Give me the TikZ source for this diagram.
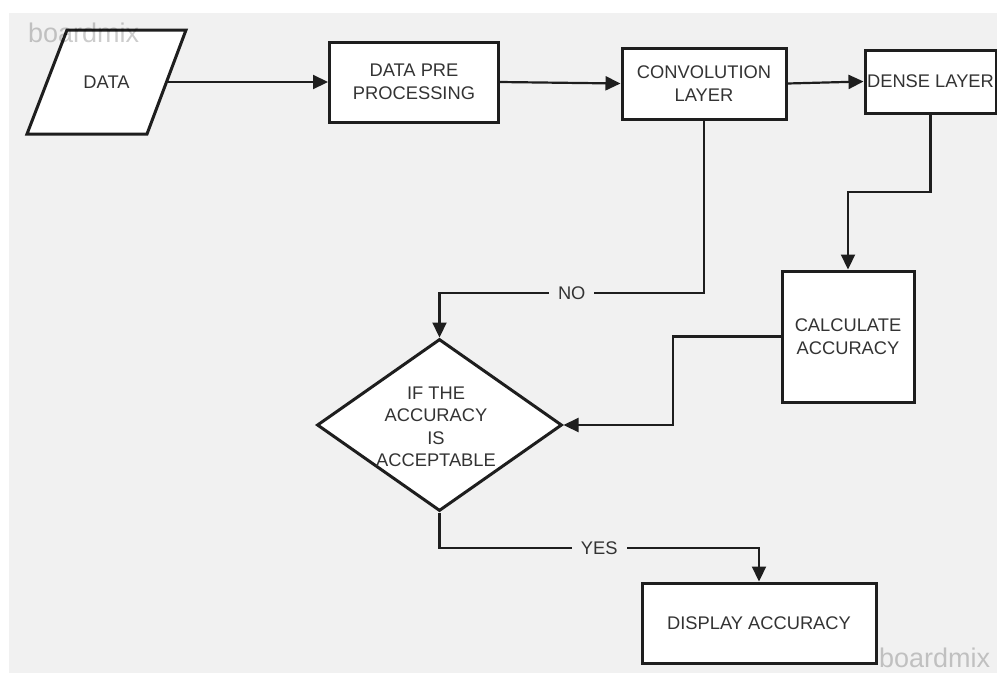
\documentclass[tikz,border=0pt]{standalone}
\usepackage{fontspec}
\setmainfont{Liberation Sans}
\usetikzlibrary{arrows.meta,shapes.geometric,calc}
\definecolor{bg}{HTML}{F1F1F1}
\definecolor{txt}{HTML}{333333}
\definecolor{edge}{HTML}{1E1E1E}
\begin{document}
\begin{tikzpicture}[x=1pt,y=-1pt,
  font=\fontsize{18.3}{23}\selectfont,
  box/.style={draw=edge, line width=3pt, fill=white, text=txt, align=center, inner sep=0pt},
  conn/.style={draw=edge, line width=2.2pt, -{Triangle[length=15pt,width=14pt]}},
  lbl/.style={fill=bg, text=txt, inner sep=9pt},
  wmark/.style={text=black, text opacity=0.2, font=\fontsize{27}{27}\selectfont, anchor=base west, inner sep=0pt}
]
\useasboundingbox (0,0) rectangle (997,673);
\fill[bg] (9,13) rectangle (997,673);

% DATA parallelogram
\draw[line width=3pt, draw=edge, fill=white] (67,30) -- (186,30) -- (147,134) -- (27,134) -- cycle;
\node[text=txt, minimum width=120, minimum height=104, inner sep=0pt] (data) at (106.5,82) {DATA};

\node[box, minimum width=169, minimum height=80] (pre) at (414,82) {DATA PRE\\PROCESSING};
\node[box, minimum width=164, minimum height=71] (conv) at (704,83.5) {CONVOLUTION\\LAYER};
\node[box, minimum width=131, minimum height=63] (dense) at (930.5,81.5) {DENSE LAYER};
\node[box, minimum width=132, minimum height=131] (calc) at (848,336.5) {CALCULATE\\ACCURACY};
\node[box, shape=diamond, minimum width=245, minimum height=172] (dec) at (439.5,425) {};
\node[text=txt, align=center, inner sep=0pt, font=\fontsize{18.3}{22.5}\selectfont] (dect) at (436,427) {IF THE\\ACCURACY\\IS\\ACCEPTABLE};
\node[box, minimum width=234, minimum height=80] (disp) at (759,623) {DISPLAY ACCURACY};

\coordinate (noy) at (0,293);
\coordinate (dy) at (0,192);
\coordinate (cx) at (673,0);
\coordinate (yy) at (0,548);

\draw[conn] (data.east) -- (pre.west);
\draw[conn] (pre.east) -- (conv.west);
\draw[conn] (conv.east) -- (dense.west);
\draw[conn] (conv.south) -- (conv.south |- noy) -- node[lbl] {NO} (dec.north |- noy) -- (dec.north);
\draw[conn] (dense.south) -- (dense.south |- dy) -- (calc.north |- dy) -- (calc.north);
\draw[conn] (calc.west) -- (cx |- calc.west) -- (cx |- dec.east) -- (dec.east);
\draw[conn] (dec.south) -- (dec.south |- yy) -- node[lbl] {YES} (disp.north |- yy) -- (disp.north);

\node[wmark] (wm1) at (28,42) {boardmix};
\node[wmark] (wm2) at (879,667) {boardmix};
\end{tikzpicture}
\end{document}
